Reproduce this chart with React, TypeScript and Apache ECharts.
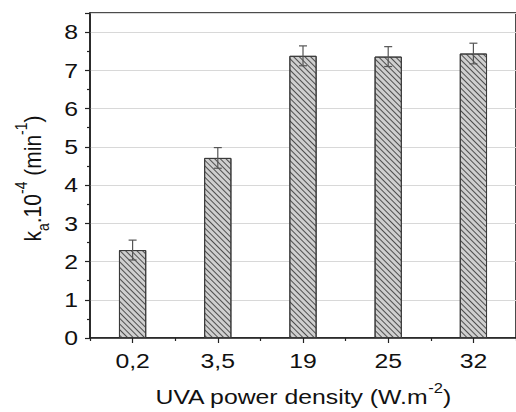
import React, { useEffect, useRef } from "react";
import * as echarts from "echarts";

// UVA power density categories (W.m^-2)
const categories = ["0,2", "3,5", "19", "25", "32"];
// Apparent rate constant k_a x 10^-4 (min^-1)
const rateValues = [2.3, 4.71, 7.38, 7.36, 7.44];
// Standard deviation for each bar
const rateErrors = [0.26, 0.27, 0.26, 0.26, 0.27];
// Y axis tick labels
const yTicks = [0, 1, 2, 3, 4, 5, 6, 7, 8];

const FONT = "'Liberation Sans', Arial, Helvetica, sans-serif";
const FS = 21; // label font size
const SX = 1.18; // horizontal stretch of the lettering
const INK = "#111";

export default function App() {
  const ref = useRef<HTMLDivElement>(null);

  useEffect(() => {
    document.body.style.margin = "0";
    if (!ref.current) return;
    const chart = echarts.init(ref.current, undefined, { renderer: "svg" });

    const errorData = rateValues.map((v, i) => [i, v - rateErrors[i], v + rateErrors[i]]);

    chart.setOption({
      animation: false,
      backgroundColor: "#ffffff",
      grid: {
        left: 90,
        top: 13,
        right: -3,
        bottom: 74,
        show: true,
        borderColor: "#111",
        borderWidth: 1.5,
        containLabel: false,
      },
      xAxis: [
        {
          type: "category",
          data: categories,
          position: "bottom",
          axisLine: { show: true, lineStyle: { color: "#222", width: 1.5 } },
          axisTick: { show: true, alignWithLabel: true, length: 5, lineStyle: { color: "#222", width: 1.2 } },
          axisLabel: { show: false },
          splitLine: { show: false },
        },
        {
          type: "category",
          data: categories,
          position: "bottom",
          axisLine: { show: false },
          axisTick: { show: true, alignWithLabel: false, length: 3, lineStyle: { color: "#222", width: 1.2 } },
          axisLabel: { show: false },
          splitLine: { show: false },
        },
      ],
      yAxis: {
        type: "value",
        min: 0,
        max: 8.5,
        interval: 1,
        axisLine: { show: true, lineStyle: { color: "#222", width: 1.5 } },
        axisTick: { show: true, length: 5, lineStyle: { color: "#222", width: 1.2 } },
        minorTick: { show: true, splitNumber: 2, length: 3, lineStyle: { color: "#222", width: 1.2 } },
        axisLabel: { show: false },
        splitLine: { show: true, lineStyle: { color: "#d8d8d8", width: 1 } },
      },
      series: [
        {
          type: "bar",
          xAxisIndex: 0,
          data: rateValues,
          barWidth: "32%",
          itemStyle: {
            color: "#cfcfcf",
            borderColor: "#3a3a3a",
            borderWidth: 1,
            decal: {
              symbol: "rect",
              symbolSize: 1,
              dashArrayX: [1, 0],
              dashArrayY: [1, 2.6],
              rotation: Math.PI / 4,
              color: "rgba(55,55,55,0.85)",
            },
          },
          z: 2,
        },
        {
          type: "custom",
          xAxisIndex: 0,
          data: errorData,
          z: 5,
          renderItem: (params: any, api: any) => {
            const x = api.value(0);
            const lo = api.coord([x, api.value(1)]);
            const hi = api.coord([x, api.value(2)]);
            const cap = 4;
            const style = { stroke: "#555", lineWidth: 1.2 };
            return {
              type: "group",
              children: [
                { type: "line", shape: { x1: hi[0], y1: hi[1], x2: lo[0], y2: lo[1] }, style },
                { type: "line", shape: { x1: hi[0] - cap, y1: hi[1], x2: hi[0] + cap, y2: hi[1] }, style },
                { type: "line", shape: { x1: lo[0] - cap, y1: lo[1], x2: lo[0] + cap, y2: lo[1] }, style },
              ],
            };
          },
        },
      ],
    });

    // Tick labels and axis titles, placed through the axes' own scales
    const font = `${FS}px ${FONT}`;
    const elements: any[] = [];

    yTicks.forEach((v) => {
      const py = chart.convertToPixel({ yAxisIndex: 0 }, v) as number;
      elements.push({
        type: "text",
        x: 78,
        y: py,
        scaleX: SX,
        style: { text: String(v), font, fill: INK, align: "right", verticalAlign: "middle" },
      });
    });

    categories.forEach((c, i) => {
      const px = chart.convertToPixel({ xAxisIndex: 0 }, i) as number;
      elements.push({
        type: "text",
        x: px,
        y: 361,
        scaleX: SX,
        style: { text: c, font, fill: INK, align: "center", verticalAlign: "middle" },
      });
    });

    const gx0 = chart.convertToPixel({ xAxisIndex: 1 }, 0) as number;
    const gx1 = chart.convertToPixel({ xAxisIndex: 1 }, categories.length - 1) as number;
    const gy0 = chart.convertToPixel({ yAxisIndex: 0 }, 0) as number;
    const gy1 = chart.convertToPixel({ yAxisIndex: 0 }, 8.5) as number;

    elements.push({
      type: "text",
      x: (gx0 + gx1) / 2,
      y: 394,
      scaleX: SX,
      style: {
        text: "{t|UVA power density (W.m}{sup|-2}{t|)}",
        align: "center",
        verticalAlign: "middle",
        rich: {
          t: { font, fill: INK, lineHeight: 26, verticalAlign: "bottom" },
          sup: { font: `14px ${FONT}`, fill: INK, lineHeight: 26, verticalAlign: "top" },
        },
      },
    });

    elements.push({
      type: "text",
      x: 32,
      y: (gy0 + gy1) / 2 + 3,
      rotation: Math.PI / 2,
      scaleY: SX,
      style: {
        text: "{t|k}{sub|a}{t|.10}{sup|-4}{t| (min}{sup|-1}{t|)}",
        align: "center",
        verticalAlign: "middle",
        rich: {
          t: { font, fill: INK, lineHeight: 32, verticalAlign: "middle" },
          sub: { font: `14px ${FONT}`, fill: INK, lineHeight: 32, verticalAlign: "bottom" },
          sup: { font: `14px ${FONT}`, fill: INK, lineHeight: 32, verticalAlign: "top" },
        },
      },
    });

    chart.setOption({ graphic: { elements } });

    return () => chart.dispose();
  }, []);

  return <div ref={ref} style={{ width: 516, height: 412 }} />;
}
